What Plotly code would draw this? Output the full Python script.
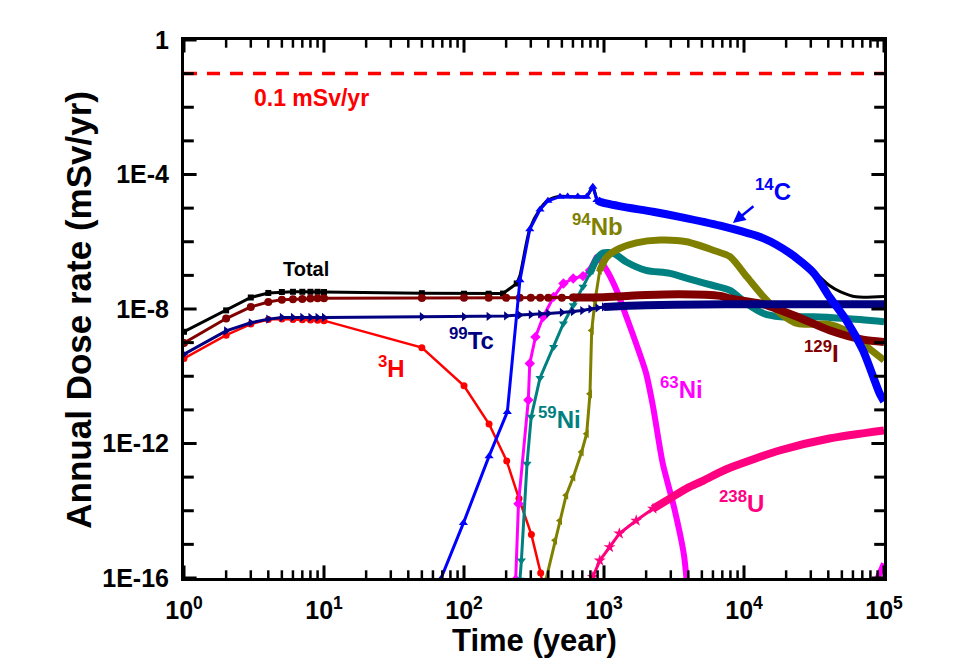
import plotly.graph_objects as go

# ---------------- data ----------------
LIMIT = 0.1  # mSv/yr regulatory limit

total_t = [1, 2, 3, 4, 5, 6, 7, 8, 9, 10, 50, 100, 150, 190, 238, 251, 295, 349, 398, 485, 752,
           832, 891, 933, 1288, 2239, 3890, 6761, 13800, 21380, 31620, 40740, 49000, 63100, 100000]
total_d = [2.1e-9, 9.1e-9, 2.2e-8, 3.0e-8, 3.2e-8, 3.25e-8, 3.25e-8, 3.25e-8, 3.25e-8, 3.2e-8,
           2.95e-8, 2.85e-8, 2.85e-8, 2.88e-8, 5.75e-8, 1.0e-7, 2.4e-6, 9.3e-6, 1.7e-5, 2.24e-5,
           2.24e-5, 4.4e-5, 1.78e-5, 1.58e-5, 1.17e-5, 7.9e-6, 5.0e-6, 3.1e-6, 1.32e-6, 4.7e-7,
           1.3e-7, 5.0e-8, 3.24e-8, 2.3e-8, 2.35e-8]

h3_t = [1, 2, 3, 4, 5, 6, 7, 8, 9, 10, 50, 100, 151, 202, 247, 303, 353, 365]
h3_d = [3.4e-10, 1.66e-9, 3.55e-9, 4.9e-9, 5.0e-9, 4.9e-9, 4.8e-9, 4.7e-9, 4.6e-9, 4.5e-9,
        7.1e-10, 5.2e-11, 3.8e-12, 3.0e-13, 2.3e-14, 1.95e-15, 1.4e-16, 6e-17]

tc99_t = [1, 2, 3, 4, 5, 6, 7, 8, 9, 10, 50, 100, 150, 200, 250, 300, 350, 400, 500, 600,
          700, 800, 900, 1000, 1500, 2000, 5000, 10000, 100000]
tc99_d = [4.5e-10, 2.24e-9, 3.9e-9, 5.0e-9, 5.6e-9, 5.6e-9, 5.6e-9, 5.6e-9, 5.6e-9, 5.6e-9,
          5.9e-9, 5.9e-9, 6.0e-9, 6.2e-9, 6.6e-9, 6.8e-9, 7.1e-9, 7.4e-9, 7.9e-9, 8.3e-9,
          9.0e-9, 1.0e-8, 1.08e-8, 1.15e-8, 1.25e-8, 1.3e-8, 1.36e-8, 1.38e-8, 1.38e-8]

i129_t = [1, 2, 3, 4, 5, 6, 7, 8, 9, 10, 50, 100, 150, 200, 250, 300, 350, 400, 500, 600,
          1000, 2000, 3467, 6761, 7943, 13800, 24000, 40700, 70800, 100000]
i129_d = [9.8e-10, 5.2e-9, 1.15e-8, 1.62e-8, 1.9e-8, 1.95e-8, 2.0e-8, 2.05e-8, 2.1e-8, 2.1e-8,
          2.14e-8, 2.15e-8, 2.15e-8, 2.15e-8, 2.15e-8, 2.15e-8, 2.15e-8, 2.15e-8, 2.15e-8, 2.2e-8,
          2.25e-8, 2.6e-8, 2.75e-8, 2.45e-8, 2.05e-8, 1.38e-8, 5.9e-9, 2.34e-9, 1.23e-9, 1.05e-9]

c14_t = [68, 99, 151, 204, 251, 295, 349, 398, 485, 550, 650, 752, 832, 891, 933, 1288, 2239,
         3467, 6761, 13800, 21380, 31620, 40740, 53700, 70800, 93300, 100000]
c14_d = [9e-17, 4.3e-15, 4.2e-13, 8.7e-12, 7.2e-8, 2.34e-6, 9.1e-6, 1.66e-5, 2.19e-5, 2.2e-5,
         2.2e-5, 2.19e-5, 4.3e-5, 1.74e-5, 1.55e-5, 1.15e-5, 7.8e-6, 5.5e-6, 3.0e-6, 1.26e-6,
         4.5e-7, 1.15e-7, 2.3e-8, 4.7e-9, 5.9e-10, 3.0e-11, 1.8e-11]

ni59_t = [251, 257, 282, 302, 349, 437, 513, 603, 708, 794, 891, 989, 1175, 1445, 1995, 2951,
          4365, 6026, 7943, 10470, 13800, 18200, 31600, 53700, 100000]
ni59_d = [8.9e-17, 3.3e-16, 2.5e-13, 6.2e-12, 8.9e-11, 7.4e-10, 3.7e-9, 1.29e-8, 4.6e-8, 1.15e-7,
          3.16e-7, 4.7e-7, 4.5e-7, 2.5e-7, 1.41e-7, 1.15e-7, 7.2e-8, 5.0e-8, 3.6e-8, 1.45e-8,
          7.4e-9, 5.9e-9, 5.9e-9, 5.2e-9, 4.2e-9]

nb94_t = [385, 447, 485, 537, 603, 692, 752, 794, 817, 863, 933, 1047, 1288, 1698, 2512, 3890,
          6026, 7943, 10470, 13800, 18200, 24000, 31600, 40700, 53700, 70800, 100000]
nb94_d = [8.9e-17, 1.32e-15, 5.1e-15, 2.9e-14, 1.0e-13, 5.6e-13, 1.95e-12, 3.0e-11, 2.3e-9,
          1.8e-8, 1.41e-7, 3.5e-7, 6.3e-7, 9.3e-7, 1.12e-6, 1.0e-6, 5.6e-7, 3.6e-7, 9.1e-8,
          2.3e-8, 7.4e-9, 3.7e-9, 3.5e-9, 3.5e-9, 2.3e-9, 9.3e-10, 3.0e-10]

ni63_t = [234, 245, 288, 295, 324, 368, 437, 513, 603, 708, 794, 863, 891, 1047, 1230, 1445,
          1698, 1995, 2239, 2630, 3162, 3715, 3890]
ni63_d = [8.9e-17, 1.62e-14, 1.95e-11, 2.4e-10, 1.48e-9, 5.9e-9, 2.3e-8, 5.75e-8, 8.1e-8,
          9.5e-8, 1.41e-7, 2.8e-7, 3.55e-7, 1.41e-7, 3.6e-8, 5.9e-9, 9.3e-10, 1.26e-10,
          1.26e-11, 2.5e-13, 1.29e-14, 5.2e-16, 8.9e-17]
ni63_late_t = [89100, 100000]
ni63_late_d = [8.9e-17, 2.7e-16]

u238_t = [832, 933, 1096, 1288, 1698, 2239, 2951, 3890, 5129, 6761, 7943, 18200, 40700, 100000]
u238_d = [1.07e-16, 3.3e-16, 8.3e-16, 2.1e-15, 5.1e-15, 1.15e-14, 2.3e-14, 4.6e-14, 7.9e-14,
          1.41e-13, 1.9e-13, 6.3e-13, 1.41e-12, 2.45e-12]

x_range_vals = [1, 100000]        # axis limits
y_range_vals = [1e-16, 1]
x_tickvals = [1, 10, 100, 1000, 10000, 100000]
x_ticktext = ["10<sup>0</sup>", "10<sup>1</sup>", "10<sup>2</sup>", "10<sup>3</sup>",
              "10<sup>4</sup>", "10<sup>5</sup>"]
x_minor_vals = [m * 10 ** e for e in range(5) for m in range(2, 10)]
y_tickvals = [1, 1e-4, 1e-8, 1e-12, 1e-16]
y_ticktext = ["1", "1E-4", "1E-8", "1E-12", "1E-16"]
y_minor_vals = [10.0 ** (-k) for k in range(1, 16) if k % 4 != 0]

# ---------------- styling ----------------
FONT = "Liberation Sans, Arial, sans-serif"
BLACK, RED, NAVY, MAROON = "#000000", "#FF0000", "#000080", "#800000"
BLUE, TEAL, OLIVE, MAGENTA, PINK = "#0000FF", "#008080", "#808000", "#FF00FF", "#FF0080"

fig = go.Figure()


def add_series(t, d, color, symbol, msize, thin_w, thick_from=None, thick_w=8):
    if thick_from is None:
        fig.add_trace(go.Scatter(x=t, y=d, mode="lines+markers",
                                 line=dict(color=color, width=thin_w),
                                 marker=dict(symbol=symbol, size=msize, color=color),
                                 showlegend=False, hoverinfo="skip"))
        return
    i = t.index(thick_from)
    fig.add_trace(go.Scatter(x=t[:i + 1], y=d[:i + 1], mode="lines+markers",
                             line=dict(color=color, width=thin_w),
                             marker=dict(symbol=symbol, size=msize, color=color),
                             showlegend=False, hoverinfo="skip"))
    fig.add_trace(go.Scatter(x=t[i:], y=d[i:], mode="lines",
                             line=dict(color=color, width=thick_w, shape="spline", smoothing=0.7),
                             showlegend=False, hoverinfo="skip"))


fig.add_trace(go.Scatter(x=x_range_vals, y=[LIMIT, LIMIT], mode="lines",
                         line=dict(color=RED, width=3.5, dash="13px,10px"),
                         showlegend=False, hoverinfo="skip"))

add_series(total_t, total_d, BLACK, "square", 6, 3, thick_from=238, thick_w=3)
add_series(h3_t, h3_d, RED, "circle", 7, 2.5)
add_series(ni63_t, ni63_d, MAGENTA, "diamond", 8, 3, thick_from=794, thick_w=6)
fig.add_trace(go.Scatter(x=ni63_late_t, y=ni63_late_d, mode="lines",
                         line=dict(color=MAGENTA, width=6), showlegend=False, hoverinfo="skip"))
add_series(u238_t, u238_d, PINK, "star", 9, 3, thick_from=2239, thick_w=8)
add_series(ni59_t, ni59_d, TEAL, "triangle-down", 8, 3, thick_from=794, thick_w=7)
add_series(nb94_t, nb94_d, OLIVE, "triangle-left", 8, 3, thick_from=933, thick_w=7)
add_series(i129_t, i129_d, MAROON, "circle", 8, 3, thick_from=600, thick_w=8)
add_series(tc99_t, tc99_d, NAVY, "triangle-right", 8, 3, thick_from=1000, thick_w=8)
add_series(c14_t, c14_d, BLUE, "triangle-up", 8, 3, thick_from=891, thick_w=8)


# inside tick marks on all four sides: line markers centred on the frame, clipped to the
# plot area so only the inner half shows
def tick_marks(vals, on_x, size, width):
    n = len(vals)
    if on_x:
        xs = vals * 2
        ys = [y_range_vals[0]] * n + [y_range_vals[1]] * n
        sym = "line-ns"
    else:
        xs = [x_range_vals[0]] * n + [x_range_vals[1]] * n
        ys = vals * 2
        sym = "line-ew"
    fig.add_trace(go.Scatter(x=xs, y=ys, mode="markers", cliponaxis=True,
                             marker=dict(symbol=sym, size=size, color=BLACK,
                                         line=dict(color=BLACK, width=width)),
                             showlegend=False, hoverinfo="skip"))


tick_marks(x_tickvals, True, 18, 3)
tick_marks(x_minor_vals, True, 11, 2.5)
tick_marks(y_tickvals, False, 18, 3)
tick_marks(y_minor_vals, False, 14, 3)

axis_common = dict(
    showline=True, linewidth=3, linecolor=BLACK, mirror=True,
    ticks="", showgrid=False, zeroline=False,
)
tickfont = dict(family=FONT, size=25, color=BLACK, weight="bold")

fig.update_layout(
    xaxis=dict(type="log", range=[0, 5], tickmode="array", tickvals=x_tickvals,
               ticktext=x_ticktext, ticklabelstandoff=8, tickfont=tickfont, **axis_common),
    yaxis=dict(type="log", range=[-16, 0], tickmode="array", tickvals=y_tickvals,
               ticktext=y_ticktext, ticklabelstandoff=7, tickfont=tickfont, **axis_common),
)

ann = []


def label(text, lx, ly, color, size=24):
    ann.append(dict(x=lx, y=ly, xref="x", yref="y", text=text, showarrow=False,
                    font=dict(family=FONT, size=size, color=color, weight="bold"),
                    xanchor="center", yanchor="middle"))


label("Total", 0.871, -6.815, BLACK, 20)
label("<sup>3</sup>H", 1.479, -9.73, RED)
label("<sup>99</sup>Tc", 2.057, -8.90, NAVY)
label("<sup>59</sup>Ni", 2.679, -11.25, TEAL)
label("<sup>94</sup>Nb", 2.95, -5.506, OLIVE)
label("<sup>63</sup>Ni", 3.55, -10.36, MAGENTA)
label("<sup>129</sup>I", 4.557, -9.286, MAROON)
label("<sup>238</sup>U", 3.979, -13.75, PINK)
label("0.1 mSv/yr", 0.914, -1.726, RED, 23)
ann.append(dict(x=3.921, y=-5.446, xref="x", yref="y", text="<sup>14</sup>C",
                showarrow=True, arrowhead=2, arrowsize=1, arrowwidth=2.5, arrowcolor=BLUE,
                ax=40, ay=-33, font=dict(family=FONT, size=24, color=BLUE, weight="bold")))
# axis titles
ann.append(dict(x=-0.152, y=0.498, xref="paper", yref="paper", text="Annual Dose rate (mSv/yr)",
                textangle=-90, showarrow=False, xanchor="center", yanchor="middle",
                font=dict(family=FONT, size=35, color=BLACK, weight="bold")))
ann.append(dict(x=0.501, y=-0.117, xref="paper", yref="paper", text="Time (year)",
                showarrow=False, xanchor="center", yanchor="middle",
                font=dict(family=FONT, size=31, color=BLACK, weight="bold")))

fig.update_layout(
    width=958, height=661,
    margin=dict(l=184, r=74, t=40, b=83),
    plot_bgcolor="white", paper_bgcolor="white",
    annotations=ann, showlegend=False,
)

fig.write_html("out.html")
